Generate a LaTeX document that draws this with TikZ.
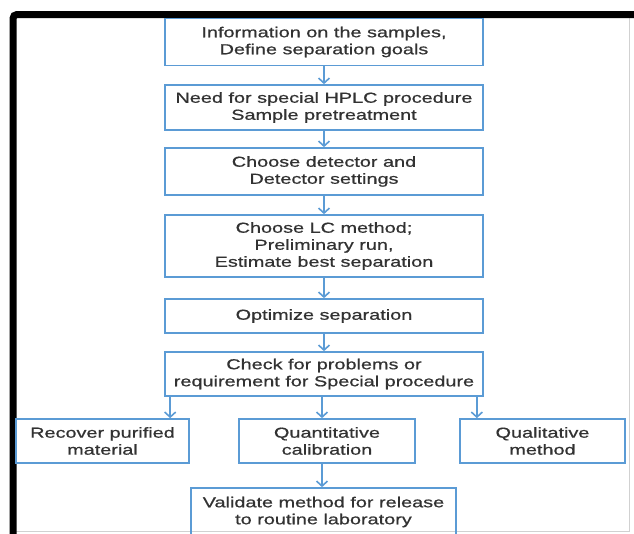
\documentclass[tikz,border=0pt]{standalone}
\usepackage{fontspec}
\setmainfont{Liberation Sans}[FakeStretch=1.37, FakeBold=0.7]
\usetikzlibrary{arrows.meta}
\definecolor{boxblue}{RGB}{91,155,213}
\definecolor{txtgray}{RGB}{50,50,50}
\begin{document}
\begin{tikzpicture}[x=1pt, y=-1pt, >={Straight Barb[length=5pt,width=11pt]},
    box/.style = {draw=boxblue, line width=1.7pt, align=center, text=txtgray, inner sep=2pt,
                  font=\fontsize{14.5}{17}\selectfont},
    arr/.style = {->, draw=boxblue, line width=1.6pt}]

		\useasboundingbox (0,0) rectangle (634,533);
		\clip (0,0) rectangle (634,533);

		% frame of the screenshot
		\draw[black!18, line width=0.8pt] (629,18) -- (629,531) -- (16,531);
		\draw[black, line width=7pt, rounded corners=4pt] (13,540) -- (13,14.5) -- (640,14.5);

		\node[box, minimum width=318, minimum height=47] (info) at (324,42) {Information on the samples,\\Define separation goals};
		\node[box, minimum width=318, minimum height=45] (hplc) at (324,107.5) {Need for special HPLC procedure\\Sample pretreatment};
		\node[box, minimum width=318, minimum height=47] (detector) at (324,171.5) {Choose detector and\\Detector settings};
		\node[box, minimum width=318, minimum height=62] (lc) at (324,246) {Choose LC method;\\Preliminary run,\\Estimate best separation};
		\node[box, minimum width=318, minimum height=34] (optimize) at (324,316) {Optimize separation};
		\node[box, minimum width=318, minimum height=44] (check) at (324,374) {Check for problems or\\requirement for Special procedure};

		\node[box, minimum width=173, minimum height=44] (recover) at (102.5,441) {Recover purified\\material};
		\node[box, minimum width=176, minimum height=44] (quant) at (327,441) {Quantitative\\calibration};
		\node[box, minimum width=165, minimum height=44] (qual) at (542.5,441) {Qualitative\\method};

		\node[box, minimum width=265, minimum height=48] (valid) at (323.5,512) {Validate method for release\\to routine laboratory};

		\draw[arr] (info) -- (hplc);
		\draw[arr] (hplc) -- (detector);
		\draw[arr] (detector) -- (lc);
		\draw[arr] (lc) -- (optimize);
		\draw[arr] (optimize) -- (check);

		\draw[arr] ([xshift=6pt]check.south west) -- ([xshift=6pt]check.south west |- recover.north);
		\draw[arr] ([xshift=-2pt]check.south) -- ([xshift=-2pt]check.south |- quant.north);
		\draw[arr] ([xshift=-7pt]check.south east) -- ([xshift=-7pt]check.south east |- qual.north);
		\draw[arr] ([xshift=-5pt]quant.south) -- ([xshift=-5pt]quant.south |- valid.north);
	\end{tikzpicture}
\end{document}
